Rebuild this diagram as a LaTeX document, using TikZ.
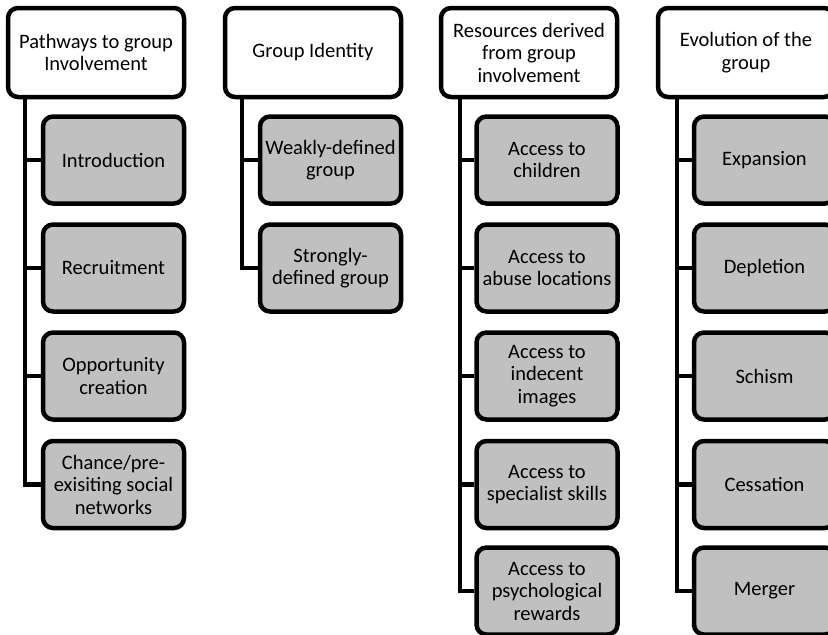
\documentclass[tikz,border=0pt]{standalone}
\usepackage{fontspec}
\setmainfont{Carlito}
\definecolor{boxgray}{RGB}{192,192,192}

\begin{document}
\begin{tikzpicture}
[every node/.style={inner sep=0pt, align=center, font=\fontsize{20.5}{22.5}\selectfont},
 head/.style={rectangle, rounded corners=10pt, minimum width=176pt, minimum height=89pt, fill=white, line width=4.5pt, draw=black},
 sub/.style={rectangle, rounded corners=10pt, minimum width=141pt, minimum height=87pt, fill=boxgray, line width=4.5pt, draw=black},
 link/.style={line width=4.5pt, color=black}]
\useasboundingbox (0pt, 0pt) rectangle (828pt, -635pt);
\node (h1) [head] at (96.0pt, -52.5pt) {Pathways to group\\Involvement};
\node (h2) [head] at (313.0pt, -52.5pt) {Group Identity};
\node (h3) [head] at (529.0pt, -52.5pt) {Resources derived\\from group\\involvement};
\node (h4) [head] at (746.0pt, -52.5pt) {Evolution of the\\group};
\node (c11) [sub] at (113.5pt, -160.0pt) {Introduction};
\node (c12) [sub] at (113.5pt, -268.0pt) {Recruitment};
\node (c13) [sub] at (113.5pt, -376.0pt) {Opportunity\\creation};
\node (c14) [sub] at (113.5pt, -484.5pt) {Chance/pre-\\exisiting social\\networks};
\node (c21) [sub] at (330.5pt, -160.0pt) {Weakly-defined\\group};
\node (c22) [sub] at (330.5pt, -268.0pt) {Strongly-\\defined group};
\node (c31) [sub] at (547.0pt, -160.0pt) {Access to\\children};
\node (c32) [sub] at (547.0pt, -268.0pt) {Access to\\abuse locations};
\node (c33) [sub] at (547.0pt, -376.0pt) {Access to\\indecent\\images};
\node (c34) [sub] at (547.0pt, -484.5pt) {Access to\\specialist skills};
\node (c35) [sub] at (547.0pt, -591.0pt) {Access to\\psychological\\rewards};
\node (c41) [sub] at (764.5pt, -160.0pt) {Expansion};
\node (c42) [sub] at (764.5pt, -268.0pt) {Depletion};
\node (c43) [sub] at (764.5pt, -376.0pt) {Schism};
\node (c44) [sub] at (764.5pt, -484.5pt) {Cessation};
\node (c45) [sub] at (764.5pt, -591.0pt) {Merger};
\coordinate (t1) at ([xshift=19pt]h1.south west);
\coordinate (t2) at ([xshift=19pt]h2.south west);
\coordinate (t3) at ([xshift=21pt]h3.south west);
\coordinate (t4) at ([xshift=21pt]h4.south west);
\draw [link] (t1) |- (c11.west);
\draw [link] (t1) |- (c12.west);
\draw [link] (t1) |- (c13.west);
\draw [link] (t1) |- (c14.west);
\draw [link] (t2) |- (c21.west);
\draw [link] (t2) |- (c22.west);
\draw [link] (t3) |- (c31.west);
\draw [link] (t3) |- (c32.west);
\draw [link] (t3) |- (c33.west);
\draw [link] (t3) |- (c34.west);
\draw [link] (t3) |- (c35.west);
\draw [link] (t4) |- (c41.west);
\draw [link] (t4) |- (c42.west);
\draw [link] (t4) |- (c43.west);
\draw [link] (t4) |- (c44.west);
\draw [link] (t4) |- (c45.west);
\end{tikzpicture}
\end{document}
